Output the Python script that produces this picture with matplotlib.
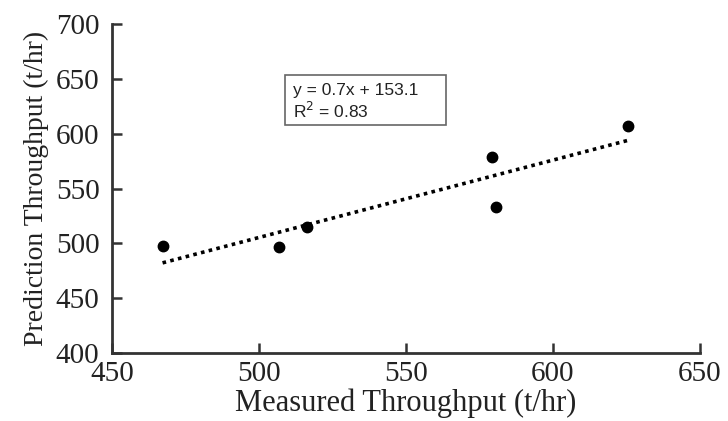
import numpy as np
import matplotlib
matplotlib.use('Agg')
import matplotlib.pyplot as plt
from matplotlib.patches import Rectangle

measured = [467.2, 506.9, 516.4, 579.4, 580.6, 625.5]
predicted = [497.5, 496.3, 514.6, 578.4, 533.1, 606.9]
eq_line1 = 'y = 0.7x + 153.1'
eq_line2 = 'R$^2$ = 0.83'

W, H = 728, 421
fig = plt.figure(figsize=(W / 100, H / 100), dpi=100)
ax = fig.add_axes([112 / W, 1 - 353 / H, 588 / W, 329 / H])

ax.plot(measured, predicted, 'o', color='black', markersize=7.5, zorder=3)

# linear trend line through the points
coef = np.polyfit(measured, predicted, 1)
xs = np.array([min(measured), max(measured)])
ax.plot(xs, np.polyval(coef, xs), linestyle=(0, (1, 1.2)), color='black', linewidth=2.6)

ax.set_xlim(450, 650)
ax.set_ylim(400, 700)
ax.set_xticks(range(450, 651, 50))
ax.set_yticks(range(400, 701, 50))

for s in ['top', 'right']:
    ax.spines[s].set_visible(False)
for s in ['left', 'bottom']:
    ax.spines[s].set_linewidth(2)
    ax.spines[s].set_color('#333333')

ax.tick_params(direction='in', length=7, width=1.8, color='#333333', labelsize=21)
ax.tick_params(axis='x', pad=6)
ax.tick_params(axis='y', pad=9)
for lab in ax.get_xticklabels() + ax.get_yticklabels():
    lab.set_family('Liberation Serif')
    lab.set_color('#222222')

ax.set_xlabel('Measured Throughput (t/hr)', family='Liberation Serif', fontsize=22,
              color='#222222', labelpad=1)
ax.set_ylabel('Prediction Throughput (t/hr)', family='Liberation Serif', fontsize=20,
              color='#222222', labelpad=5)

# equation box
fig.add_artist(Rectangle((285 / W, 1 - 125 / H), 161 / W, 50 / H, transform=fig.transFigure,
                         facecolor='white', edgecolor='#666666', linewidth=1.2))
fig.text(293 / W, 1 - 90 / H, eq_line1, family='Liberation Sans', fontsize=12.5,
         color='#222222', va='center', ha='left')
fig.text(293 / W, 1 - 111 / H, eq_line2, family='Liberation Sans', fontsize=12.5,
         color='#222222', va='center', ha='left')

fig.savefig('out.png', dpi=100)
